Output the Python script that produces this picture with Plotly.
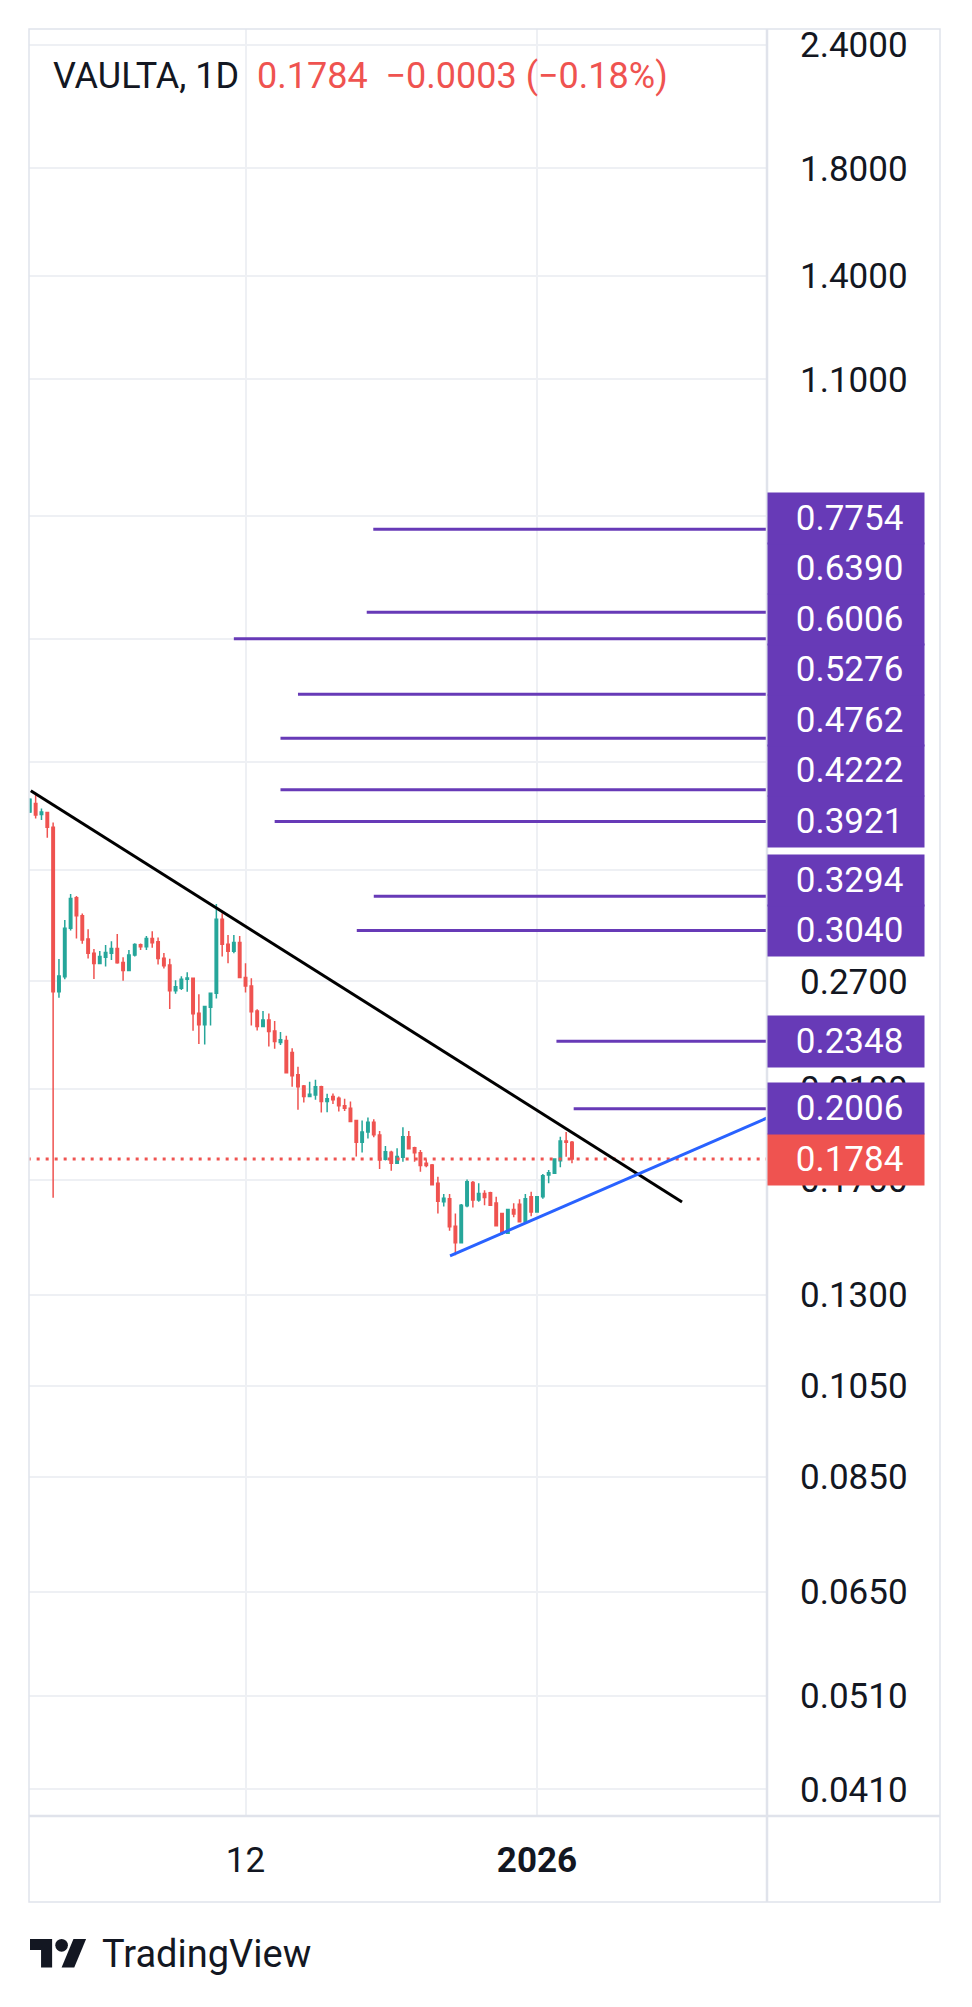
import math
import pandas as pd
import plotly.graph_objects as go

# VAULTA daily candles, first one on 2025-10-06
first_day = "2025-10-06"
opens = [0.4010, 0.4090, 0.3986, 0.4004, 0.3868, 0.2636, 0.2730, 0.3056, 0.3282, 0.3147,
         0.2981, 0.2883, 0.2816, 0.2857, 0.2883, 0.2916, 0.2822, 0.2769, 0.2872, 0.2941,
         0.2928, 0.2985, 0.2962, 0.2850, 0.2805, 0.2642, 0.2657, 0.2713, 0.2720, 0.2506,
         0.2440, 0.2542, 0.2626, 0.3121, 0.2944, 0.2896, 0.2957, 0.2724, 0.2672, 0.2520,
         0.2430, 0.2468, 0.2405, 0.2341, 0.2352, 0.2287, 0.2171, 0.2115, 0.2064, 0.2072,
         0.2112, 0.2040, 0.2064, 0.2056, 0.2020, 0.2008, 0.1952, 0.1855, 0.1900, 0.1944,
         0.1887, 0.1783, 0.1812, 0.1766, 0.1791, 0.1879, 0.1832, 0.1810, 0.1766, 0.1759,
         0.1686, 0.1615, 0.1626, 0.1525, 0.1467, 0.1600, 0.1689, 0.1621, 0.1646, 0.1649,
         0.1610, 0.1571, 0.1500, 0.1586, 0.1605, 0.1541, 0.1634, 0.1577, 0.1634, 0.1719,
         0.1726, 0.1777, 0.1861, 0.1855]
highs = [0.4139, 0.4187, 0.4042, 0.4010, 0.3913, 0.2845, 0.3116, 0.3310, 0.3295, 0.3164,
         0.3049, 0.2912, 0.2899, 0.2939, 0.2966, 0.3015, 0.2857, 0.2905, 0.2952, 0.2950,
         0.3001, 0.3035, 0.2992, 0.2885, 0.2846, 0.2707, 0.2733, 0.2758, 0.2722, 0.2621,
         0.2550, 0.2628, 0.3235, 0.3165, 0.3009, 0.3009, 0.3002, 0.2817, 0.2720, 0.2530,
         0.2520, 0.2505, 0.2462, 0.2400, 0.2378, 0.2310, 0.2212, 0.2120, 0.2136, 0.2146,
         0.2117, 0.2077, 0.2079, 0.2064, 0.2053, 0.2040, 0.1955, 0.1952, 0.1965, 0.1958,
         0.1904, 0.1839, 0.1819, 0.1829, 0.1921, 0.1904, 0.1836, 0.1822, 0.1783, 0.1763,
         0.1712, 0.1644, 0.1644, 0.1571, 0.1606, 0.1701, 0.1695, 0.1686, 0.1659, 0.1653,
         0.1634, 0.1574, 0.1587, 0.1609, 0.1624, 0.1644, 0.1653, 0.1637, 0.1723, 0.1739,
         0.1786, 0.1879, 0.1900, 0.1861]
lows = [0.4000, 0.3949, 0.3934, 0.3775, 0.1630, 0.2599, 0.2713, 0.3040, 0.2985, 0.2948,
        0.2848, 0.2715, 0.2812, 0.2795, 0.2839, 0.2814, 0.2704, 0.2767, 0.2861, 0.2905,
        0.2905, 0.2921, 0.2808, 0.2782, 0.2531, 0.2624, 0.2646, 0.2636, 0.2406, 0.2333,
        0.2330, 0.2436, 0.2594, 0.2861, 0.2817, 0.2883, 0.2720, 0.2631, 0.2436, 0.2408,
        0.2428, 0.2319, 0.2308, 0.2328, 0.2180, 0.2112, 0.2001, 0.2036, 0.2062, 0.2049,
        0.1988, 0.1990, 0.2028, 0.1993, 0.1996, 0.1945, 0.1794, 0.1811, 0.1871, 0.1877,
        0.1743, 0.1778, 0.1736, 0.1763, 0.1773, 0.1825, 0.1773, 0.1732, 0.1750, 0.1678,
        0.1571, 0.1597, 0.1509, 0.1425, 0.1465, 0.1594, 0.1593, 0.1615, 0.1602, 0.1600,
        0.1525, 0.1494, 0.1498, 0.1557, 0.1538, 0.1533, 0.1561, 0.1575, 0.1626, 0.1686,
        0.1724, 0.1750, 0.1793, 0.1766]
closes = [0.4129, 0.3980, 0.4010, 0.3868, 0.2636, 0.2734, 0.3056, 0.3277, 0.3147, 0.2974,
          0.2883, 0.2816, 0.2861, 0.2888, 0.2916, 0.2820, 0.2769, 0.2872, 0.2943, 0.2928,
          0.2985, 0.2955, 0.2848, 0.2801, 0.2642, 0.2667, 0.2713, 0.2722, 0.2504, 0.2440,
          0.2546, 0.2626, 0.3121, 0.2944, 0.2896, 0.2957, 0.2724, 0.2672, 0.2516, 0.2430,
          0.2468, 0.2402, 0.2347, 0.2356, 0.2182, 0.2166, 0.2112, 0.2064, 0.2075, 0.2112,
          0.2040, 0.2053, 0.2049, 0.2020, 0.2008, 0.1947, 0.1855, 0.1900, 0.1944, 0.1888,
          0.1780, 0.1815, 0.1766, 0.1794, 0.1879, 0.1827, 0.1810, 0.1757, 0.1757, 0.1680,
          0.1617, 0.1628, 0.1523, 0.1467, 0.1602, 0.1692, 0.1621, 0.1646, 0.1631, 0.1602,
          0.1527, 0.1500, 0.1586, 0.1569, 0.1541, 0.1626, 0.1577, 0.1634, 0.1716, 0.1728,
          0.1784, 0.1861, 0.1855, 0.1784]

dates = pd.date_range(first_day, periods=len(closes), freq="D")

# purple horizontal rays drawn on the chart
level_prices = [0.7754, 0.6390, 0.6006, 0.5276, 0.4762, 0.4222, 0.3921, 0.3294, 0.3040, 0.2348, 0.2006]
level_starts = ["2025-12-03 22:00", "2025-12-02 19:00", "2025-11-10 00:00", "2025-11-21 00:00",
                "2025-11-18 00:00", "2025-11-18 00:00", "2025-11-17 00:00", "2025-12-04 00:00",
                "2025-12-01 02:00", "2026-01-04 08:00", "2026-01-07 07:00"]
last_price = 0.1784

# trend lines
resist_x = ["2025-10-06 04:00", "2026-01-25 21:00"]
resist_y = [0.4213, 0.1614]
support_x = ["2025-12-17 02:00", "2026-02-12 00:00"]
support_y = [0.1423, 0.1993]

price_ticks = [2.4, 1.8, 1.4, 1.1, 0.8, 0.6, 0.45, 0.35, 0.27, 0.21, 0.17,
               0.13, 0.105, 0.085, 0.065, 0.051, 0.041]
hidden_ticks = [0.8, 0.6, 0.45, 0.35]   # labels sit under the purple price boxes
date_ticks = ["2025-11-12", "2026-01-01"]
date_labels = ["12", "<b>2026</b>"]

UP = "#26A69A"
DOWN = "#EF5350"
PURPLE = "#673AB7"
TXT = "#131722"
GRID = "#EEF0F4"
BORDER = "#E0E3EB"
FONT = "Roboto"

OFF = 8                          # page body margin
W, H = 972 - 2 * OFF, 2007 - 2 * OFF
L, R, T, B = 29, 767, 29, 1816   # plot area, page pixels


def px_x(px):
    return (px - L) / (R - L)


def px_y(py):
    return (B - py) / (B - T)


fig = go.Figure()

fig.add_trace(go.Candlestick(
    x=dates, open=opens, high=highs, low=lows, close=closes,
    increasing=dict(line=dict(color=UP, width=1.5), fillcolor=UP),
    decreasing=dict(line=dict(color=DOWN, width=1.5), fillcolor=DOWN),
    whiskerwidth=0, showlegend=False, hoverinfo="skip",
))

ray_end = "2026-03-01"
for p, s in zip(level_prices, level_starts):
    fig.add_trace(go.Scatter(x=[s, ray_end], y=[p, p], mode="lines",
                             line=dict(color=PURPLE, width=3),
                             showlegend=False, hoverinfo="skip"))

# last price dotted line
fig.add_trace(go.Scatter(x=["2025-10-01", ray_end], y=[last_price, last_price], mode="lines",
                         line=dict(color=DOWN, width=3, dash="3px,6px"),
                         showlegend=False, hoverinfo="skip"))

fig.add_trace(go.Scatter(x=resist_x, y=resist_y, mode="lines",
                         line=dict(color="#000000", width=3),
                         showlegend=False, hoverinfo="skip"))
fig.add_trace(go.Scatter(x=support_x, y=support_y, mode="lines",
                         line=dict(color="#2962FF", width=3),
                         showlegend=False, hoverinfo="skip"))

# price labels on the axis, stacked so they do not overlap
gap = 0.0512
labels = sorted([(p, PURPLE) for p in level_prices] + [(last_price, DOWN)])
annotations = []
prev = -10
for p, col in labels:
    pos = max(math.log10(p), prev + gap)
    prev = pos
    annotations.append(dict(
        x=1, xref="paper", xanchor="left", y=pos, yref="y", yanchor="middle",
        text="\u2009" + f"{p:.4f}", showarrow=False, width=156, height=51,
        bgcolor=col, borderpad=0, align="center",
        font=dict(family=FONT, size=35, color="white"),
    ))

annotations.append(dict(
    x=px_x(51), xref="paper", xanchor="left", y=px_y(76), yref="paper", yanchor="middle",
    text="VAULTA, 1D&nbsp;&nbsp;<span style='color:#EF5350'>0.1784&nbsp;&nbsp;\u22120.0003 (\u22120.18%)</span>",
    showarrow=False, font=dict(family=FONT, size=36, color=TXT),
))
annotations.append(dict(
    x=px_x(100), xref="paper", xanchor="left", y=px_y(1954), yref="paper", yanchor="middle",
    text="TradingView", showarrow=False, font=dict(family=FONT, size=38, color=TXT),
))

# frame lines and the TradingView logo
shapes = [
    dict(type="rect", xref="paper", yref="paper", x0=px_x(29), x1=px_x(940), y0=px_y(29), y1=px_y(1902),
         line=dict(color=BORDER, width=1.5), layer="above"),
    dict(type="line", xref="paper", yref="paper", x0=1, x1=1, y0=px_y(29), y1=px_y(1902),
         line=dict(color=BORDER, width=2.5), layer="above"),
    dict(type="line", xref="paper", yref="paper", x0=0, x1=px_x(940), y0=0, y1=0,
         line=dict(color=BORDER, width=2.5), layer="above"),
]

s = 1.58
def logo_pt(u, v):
    return f"{px_x(30 + u * s):.5f},{px_y(1939 + (v - 4) * s):.5f}"

logo_polys = [[(14, 22), (7, 22), (7, 11), (0, 11), (0, 4), (14, 4)],
              [(28, 22), (20, 22), (27.5, 4), (35.5, 4)]]
for poly in logo_polys:
    path = "M" + " L".join(logo_pt(u, v) for u, v in poly) + " Z"
    shapes.append(dict(type="path", xref="paper", yref="paper", path=path,
                       fillcolor=TXT, line=dict(width=0)))
shapes.append(dict(type="circle", xref="paper", yref="paper",
                   x0=px_x(30 + 16 * s), x1=px_x(30 + 24 * s),
                   y0=px_y(1939 + 0 * s), y1=px_y(1939 + 8 * s),
                   fillcolor=TXT, line=dict(width=0)))

fig.update_layout(
    width=W, height=H,
    margin=dict(l=L - OFF, r=W + OFF - R, t=T - OFF, b=H + OFF - B, autoexpand=False),
    paper_bgcolor="white", plot_bgcolor="white",
    showlegend=False,
    boxgap=0.4,
    annotations=annotations,
    shapes=shapes,
    font=dict(family=FONT, color=TXT),
)

fig.update_xaxes(
    type="date", range=["2025-10-05 20:40", "2026-02-09 10:50"],
    rangeslider=dict(visible=False),
    tickvals=date_ticks, ticktext=date_labels,
    tickfont=dict(family=FONT, size=35, color=TXT),
    showgrid=True, gridcolor=GRID, gridwidth=2,
    ticks="", ticklabelstandoff=20, zeroline=False, showline=False,
)
fig.update_yaxes(
    type="log", side="right",
    range=[math.log10(0.03852), math.log10(2.4913)],
    tickvals=price_ticks,
    ticktext=["" if v in hidden_ticks else f"{v:.4f}" for v in price_ticks],
    tickfont=dict(family=FONT, size=35, color=TXT),
    showgrid=True, gridcolor=GRID, gridwidth=2,
    ticks="", ticklabelstandoff=32, zeroline=False, showline=False,
)

fig.write_html("out.html")
